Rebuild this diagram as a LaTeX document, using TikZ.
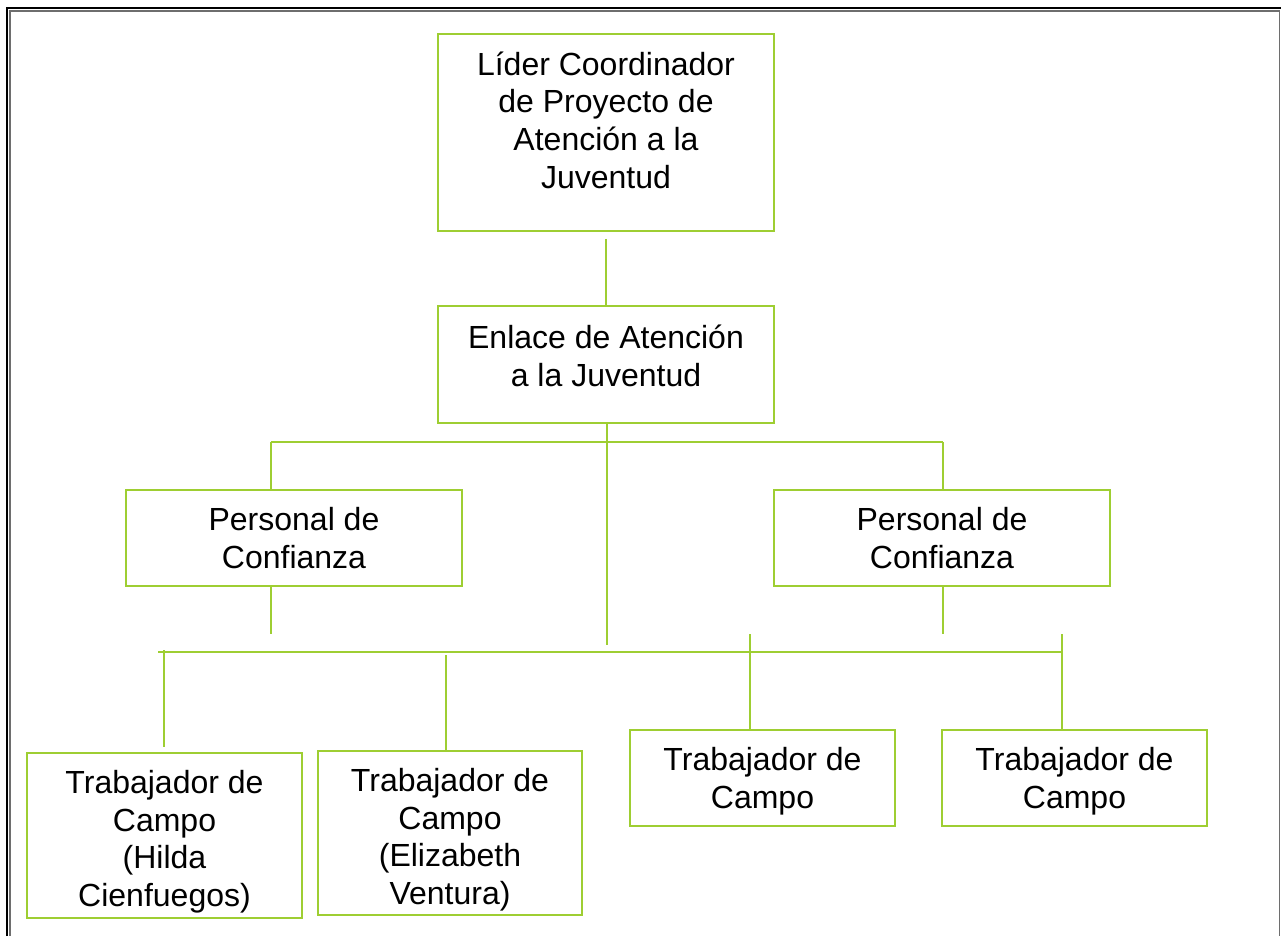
\documentclass[tikz,border=0pt]{standalone}
\usepackage{fontspec}
\setmainfont{Liberation Sans}
\usetikzlibrary{fit}
\definecolor{lgreen}{RGB}{158,206,50}
\definecolor{framegray}{RGB}{110,110,110}
\begin{document}
\begin{tikzpicture}[x=0.75pt,y=-0.75pt,
  box/.style={draw=lgreen, line width=1.2pt, inner sep=0pt, rectangle},
  txt/.style={align=center, inner sep=0pt, anchor=base, font={\fontsize{24}{28.2}\selectfont}},
  conn/.style={draw=lgreen, line width=1.2pt}]
\useasboundingbox (0,0) rectangle (1281,936);
% page frame
\draw[black, line width=1.1pt] (7,936) -- (7,8) -- (1281,8);
\draw[framegray, line width=0.8pt] (10,936) -- (10,11) -- (1279,11);
\draw[framegray, line width=1.4pt] (1279.5,10) -- (1279.5,936);
% boxes
\node[box, fit={(438,34) (774,231)}] (lider) {};
\node[box, fit={(438,306) (774,423)}] (enlace) {};
\node[box, fit={(126,490) (462,586)}] (pc1) {};
\node[box, fit={(774,490) (1110,586)}] (pc2) {};
\node[box, fit={(27,753) (302,918)}] (t1) {};
\node[box, fit={(318,751) (582,915)}] (t2) {};
\node[box, fit={(630,730) (895,826)}] (t3) {};
\node[box, fit={(942,730) (1207,826)}] (t4) {};
% texts (base anchor = baseline of last line)
\node[txt] (liderT) at ([yshift=-116.1pt]lider.north) {Líder Coordinador\\de Proyecto de\\Atención a la\\Juventud};
\node[txt] (enlaceT) at ([yshift=-60.7pt]enlace.north) {Enlace de Atención\\a la Juventud};
\node[txt] (pc1T) at ([yshift=-59.5pt]pc1.north) {Personal de\\Confianza};
\node[txt] (pc2T) at ([yshift=-59.5pt]pc2.north) {Personal de\\Confianza};
\node[txt] (t1T) at ([yshift=-115.6pt]t1.north) {Trabajador de\\Campo\\(Hilda\\Cienfuegos)};
\node[txt] (t2T) at ([yshift=-115.6pt]t2.north) {Trabajador de\\Campo\\(Elizabeth\\Ventura)};
\node[txt] (t3T) at ([yshift=-59.2pt]t3.north) {Trabajador de\\Campo};
\node[txt] (t4T) at ([yshift=-59.2pt]t4.north) {Trabajador de\\Campo};
% junction coordinates
\coordinate (e1) at (607,645);
\coordinate (hL) at (271,442);
\coordinate (hR) at (943,442);
\coordinate (pL) at (271,634);
\coordinate (pR) at (943,634);
\coordinate (bL) at (158,652);
\coordinate (bR) at (1062,652);
\coordinate (v1) at (164,650);
\coordinate (v2) at (446,655);
\coordinate (v3) at (750,634);
\coordinate (v4) at (1062,634);
% connectors
\draw[conn, shorten <=5.25pt] (lider.south) -- (enlace.north);
\draw[conn] (enlace.south -| e1) -- (e1);
\draw[conn] (hL) -- (hR);
\draw[conn] (hL) -- (hL |- pc1.north);
\draw[conn] (hR) -- (hR |- pc2.north);
\draw[conn] (pc1.south -| pL) -- (pL);
\draw[conn] (pc2.south -| pR) -- (pR);
\draw[conn] (bL) -- (bR);
\draw[conn, shorten >=3.75pt] (v1) -- (v1 |- t1.north);
\draw[conn] (v2) -- (v2 |- t2.north);
\draw[conn] (v3) -- (v3 |- t3.north);
\draw[conn] (v4) -- (v4 |- t4.north);
\end{tikzpicture}
\end{document}
